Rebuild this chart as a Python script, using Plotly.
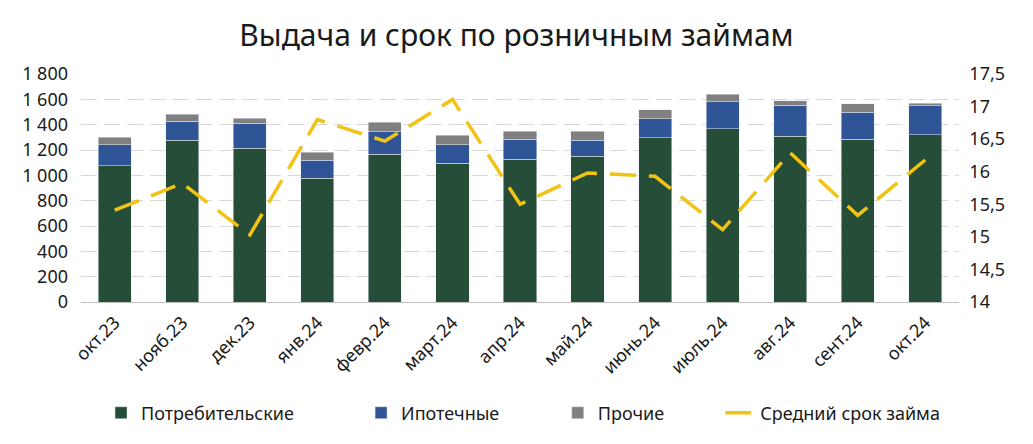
import plotly.graph_objects as go

categories = ["окт.23", "нояб.23", "дек.23", "янв.24", "февр.24", "март.24", "апр.24",
              "май.24", "июнь.24", "июль.24", "авг.24", "сент.24", "окт.24"]
consumer = [1075, 1278, 1215, 978, 1165, 1094, 1128, 1152, 1296, 1368, 1310, 1286, 1320]
mortgage = [166, 150, 198, 142, 179, 147, 156, 126, 149, 213, 243, 214, 229]
other = [61, 56, 39, 63, 77, 77, 65, 71, 71, 61, 34, 65, 22]
avg_term = [15.41, 15.82, 15.03, 16.80, 16.47, 17.11, 15.50, 15.98, 15.93, 15.11, 16.29, 15.33, 16.18]

left_ticks = list(range(0, 1801, 200))
right_ticks = [14, 14.5, 15, 15.5, 16, 16.5, 17, 17.5]
right_tick_labels = ["14", "14,5", "15", "15,5", "16", "16,5", "17", "17,5"]

FONT = "Noto Sans"
fig = go.Figure()
fig.add_trace(go.Bar(x=categories, y=consumer, name="Потребительские", marker_color="#264D38",
                     legend="legend"))
fig.add_trace(go.Bar(x=categories, y=mortgage, name="Ипотечные", marker_color="#2F5597",
                     legend="legend2"))
fig.add_trace(go.Bar(x=categories, y=other, name="Прочие", marker_color="#808080",
                     legend="legend3"))
fig.add_trace(go.Scatter(x=categories, y=avg_term, name="Средний срок займа", yaxis="y2",
                         mode="lines", legend="legend4",
                         line=dict(color="#F2C314", width=3.5, dash="26px,13px")))
for tr in fig.data:
    tr.showlegend = True

leg_common = dict(orientation="h", y=-0.487, yanchor="middle", xanchor="left",
                  font=dict(size=18, family=FONT, color="#1a1a1a"), bgcolor="rgba(0,0,0,0)")

fig.update_layout(
    width=1033, height=444,
    margin=dict(l=81, r=74, t=74, b=142),
    paper_bgcolor="white", plot_bgcolor="white",
    barmode="stack", bargap=0.51,
    separators=", ",
    showlegend=True,
    font=dict(family=FONT, color="#1a1a1a"),
    title=dict(text="Выдача и срок по розничным займам", x=0.5, xanchor="center",
               y=0.919, yanchor="middle", font=dict(size=30, family=FONT, color="#1a1a1a")),
    xaxis=dict(tickangle=-45, tickfont=dict(size=18), showline=True, linecolor="#BFBFBF",
               linewidth=1, ticks="", ticklabelstandoff=2),
    yaxis=dict(range=[0, 1800], tickvals=left_ticks, separatethousands=True, tickformat=",d",
               tickfont=dict(size=18), showgrid=True, gridcolor="#D9D9D9", griddash="16px,7px",
               gridwidth=1.3, zeroline=False, ticks="", ticklabelstandoff=12),
    yaxis2=dict(range=[14, 17.5], tickvals=right_ticks,
                ticktext=["\u00a0\u00a0" + t for t in right_tick_labels],
                overlaying="y", side="right",
                showgrid=False, zeroline=False, tickfont=dict(size=18), ticks=""),
    legend=dict(x=0.0228, **leg_common),
    legend2=dict(x=0.319, **leg_common),
    legend3=dict(x=0.543, **leg_common),
    legend4=dict(x=0.728, **leg_common),
)
fig.write_html("out.html")
